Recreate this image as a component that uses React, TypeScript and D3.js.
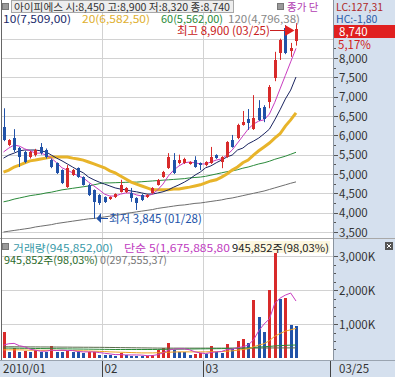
import React from "react";
import * as d3 from "d3";

// ---------- data ----------
const opens = [6220, 5750, 5930, 5670, 5570, 5440, 5490, 5700, 5620, 5360, 5280, 5100, 4660, 4970, 5150, 4920, 4720, 4580, 4450, 4400, 4350, 4400, 4540, 4540, 4510, 4380, 4460, 4400, 4510, 4720, 4920, 5160, 5360, 5280, 5280, 5260, 5360, 5280, 5230, 5280, 5490, 5310, 5440, 5880, 5930, 6270, 6420, 6160, 6710, 6730, 6860, 7480, 8130, 8780, 8180, 8450];
const highs = [6700, 5900, 6160, 5700, 5600, 5600, 5650, 5800, 5660, 5400, 5300, 5120, 5230, 5130, 5170, 4940, 4750, 4600, 4480, 4420, 4420, 4500, 4850, 4660, 4640, 4400, 4480, 4480, 4660, 4870, 5080, 5540, 5540, 5500, 5420, 5330, 5460, 5300, 5330, 5700, 5510, 5460, 5850, 6010, 6300, 6630, 6680, 7040, 6910, 6780, 7300, 8160, 8500, 8850, 8390, 8900];
const lows = [5850, 5720, 5570, 5180, 5280, 5400, 5450, 5500, 5400, 5150, 5000, 4740, 4640, 4950, 4900, 4700, 4430, 3845, 4200, 4250, 4330, 4380, 4520, 4510, 4280, 4070, 4300, 4380, 4490, 4700, 4900, 5130, 5000, 5250, 5260, 5240, 5160, 5100, 5200, 5260, 5390, 5150, 5420, 5680, 5900, 6250, 6140, 6140, 6370, 6340, 6700, 7400, 7950, 8100, 8030, 8320];
const closes = [5880, 5880, 5620, 5440, 5310, 5570, 5620, 5540, 5440, 5180, 5030, 4770, 5150, 5100, 4920, 4720, 4460, 4280, 4250, 4280, 4400, 4480, 4720, 4640, 4380, 4250, 4330, 4460, 4640, 4850, 5050, 5440, 5030, 5360, 5400, 5310, 5180, 5230, 5310, 5440, 5410, 5440, 5830, 5700, 6270, 6350, 6320, 6450, 6400, 6420, 7250, 7950, 8470, 8130, 8260, 8740];

const ma5 = [5570, 5670, 5750, 5720, 5650, 5600, 5540, 5540, 5490, 5410, 5290, 5160, 5100, 5030, 4950, 4900, 4790, 4690, 4590, 4480, 4430, 4430, 4480, 4510, 4510, 4460, 4430, 4430, 4480, 4590, 4740, 4950, 5100, 5210, 5290, 5310, 5290, 5260, 5260, 5310, 5360, 5390, 5490, 5620, 5800, 5980, 6160, 6290, 6370, 6400, 6550, 6850, 7200, 7550, 7900, 8250];
const ma10 = [5410, 5490, 5540, 5600, 5620, 5620, 5620, 5600, 5570, 5490, 5410, 5340, 5260, 5180, 5100, 5030, 4920, 4850, 4790, 4740, 4690, 4640, 4610, 4590, 4560, 4540, 4510, 4480, 4480, 4510, 4540, 4590, 4660, 4720, 4790, 4870, 4970, 5050, 5160, 5210, 5290, 5360, 5440, 5490, 5620, 5670, 5780, 5850, 5930, 6040, 6160, 6400, 6660, 6940, 7170, 7509];
const ma20 = [5050, 5100, 5180, 5230, 5290, 5340, 5360, 5390, 5410, 5440, 5440, 5440, 5440, 5410, 5390, 5360, 5310, 5260, 5210, 5160, 5080, 5030, 4950, 4870, 4790, 4740, 4690, 4640, 4590, 4590, 4590, 4590, 4610, 4610, 4640, 4660, 4690, 4720, 4770, 4820, 4850, 4920, 5000, 5100, 5180, 5290, 5360, 5490, 5600, 5700, 5800, 5930, 6040, 6240, 6400, 6582];
const ma60 = [4280, 4310, 4350, 4380, 4410, 4440, 4460, 4480, 4510, 4530, 4560, 4590, 4610, 4630, 4650, 4670, 4690, 4720, 4750, 4770, 4770, 4775, 4780, 4785, 4790, 4790, 4800, 4810, 4820, 4830, 4840, 4850, 4860, 4870, 4880, 4900, 4910, 4920, 4940, 4970, 5000, 5030, 5060, 5080, 5110, 5150, 5180, 5220, 5260, 5290, 5330, 5380, 5420, 5460, 5510, 5562];
const ma120 = [3500, 3520, 3540, 3560, 3580, 3600, 3630, 3650, 3670, 3690, 3720, 3740, 3760, 3780, 3800, 3820, 3840, 3850, 3870, 3890, 3910, 3930, 3950, 3980, 4000, 4020, 4040, 4060, 4080, 4110, 4130, 4150, 4170, 4190, 4200, 4220, 4240, 4250, 4270, 4290, 4310, 4330, 4360, 4380, 4410, 4440, 4470, 4500, 4530, 4560, 4600, 4640, 4680, 4720, 4760, 4796];

// volumes in thousands of shares
const volumes = [765, 190, 300, 190, 200, 185, 230, 190, 180, 350, 190, 185, 200, 190, 180, 150, 170, 190, 100, 80, 75, 70, 150, 75, 70, 65, 60, 70, 90, 230, 290, 440, 230, 180, 170, 90, 110, 150, 120, 350, 180, 150, 410, 270, 500, 560, 440, 1700, 1200, 760, 2010, 3090, 1740, 1760, 965, 946];
const vma5 = [380, 420, 430, 360, 330, 260, 230, 200, 200, 230, 220, 230, 220, 220, 190, 180, 180, 180, 160, 140, 120, 100, 100, 90, 90, 90, 85, 70, 70, 100, 150, 230, 260, 270, 270, 240, 180, 150, 130, 160, 180, 190, 250, 260, 300, 330, 380, 530, 800, 1000, 1150, 1600, 1760, 1850, 1910, 1676];
const vma20 = [240, 240, 240, 240, 235, 230, 230, 225, 225, 225, 225, 220, 220, 220, 215, 210, 205, 200, 195, 190, 180, 175, 170, 165, 160, 155, 150, 150, 150, 155, 160, 170, 175, 180, 180, 180, 180, 180, 180, 185, 185, 190, 200, 210, 230, 250, 270, 330, 380, 420, 510, 640, 720, 790, 830, 870];
const vma60 = [290, 290, 288, 286, 285, 283, 280, 278, 276, 275, 273, 270, 268, 266, 264, 262, 260, 258, 256, 254, 252, 250, 250, 250, 250, 250, 250, 250, 250, 252, 254, 256, 258, 260, 262, 264, 266, 268, 270, 272, 274, 276, 280, 284, 288, 292, 296, 310, 320, 330, 340, 355, 365, 372, 378, 382];
const vma120 = [330, 330, 330, 328, 328, 326, 326, 324, 324, 322, 322, 320, 320, 318, 318, 316, 316, 314, 314, 312, 310, 308, 306, 304, 302, 300, 298, 296, 294, 292, 290, 290, 290, 290, 290, 290, 290, 290, 290, 290, 290, 290, 290, 290, 290, 290, 290, 292, 293, 294, 295, 296, 296, 297, 297, 297.5];

const priceTicks = [3500, 4000, 4500, 5000, 5500, 6000, 6500, 7000, 7500, 8000];
const priceGrid = [3500, 4000, 4500, 5000, 5500, 6000, 6500, 7000, 7500, 8000, 8500];
const volTicks = [1000, 2000, 3000];
const monthLabels = ["2010/01", "02", "03"];
const monthStarts = [0, 19, 38];
const lastDateLabel = "03/25";

const F = "'Noto Sans CJK KR', 'Noto Sans', sans-serif";
const RED = "#d82a2a";
const BLUE = "#2152a8";
const PANEL = "#d5e0ee";
const GRID = "#d2d2d2";

function T(props: any) {
  const { children, size, ...rest } = props;
  return (
    <text fontFamily={F} fontSize={size || 11} {...rest}>
      {children}
    </text>
  );
}

export default function App() {
  const n = closes.length;
  const x = d3.scaleLinear().domain([0, n - 1]).range([3.5, 296]);
  const cx = (i: number) => Math.round(x(i)) + 0.5;
  const yP = d3.scaleLinear().domain([3500, 8000]).range([232, 58]);
  const yV = d3.scaleLinear().domain([0, 3000]).range([358, 256]);
  const crisp = (v: number) => Math.round(v) + 0.5;

  const lineP = d3.line<number>().x((_, i) => x(i)).y((d) => yP(d));
  const lineV = d3.line<number>().x((_, i) => x(i)).y((d) => yV(d));

  const sepX = monthStarts.slice(1).map((s) => crisp((x(s - 1) + x(s)) / 2));

  const lastClose = closes[n - 1];
  const hiIdx = n - 1;
  const loIdx = lows.indexOf(d3.min(lows) as number);

  const minorPrice = d3.range(3500, 8500, 250);
  const minorVol = d3.range(250, 3250, 250);

  return (
    <svg width={395} height={377} style={{ position: "absolute", left: 0, top: 0 }}>
      <rect x={0} y={0} width={395} height={377} fill="#ffffff" />
      {/* right panel */}
      <rect x={333} y={0} width={62} height={360} fill={PANEL} />
      {/* bottom band */}
      <rect x={0} y={360} width={395} height={17} fill={PANEL} />
      <line x1={0} x2={395} y1={360.5} y2={360.5} stroke="#9aa4b0" />

      {/* price grid */}
      {priceGrid.map((v) => (
        <line key={"pg" + v} x1={2} x2={333} y1={crisp(yP(v))} y2={crisp(yP(v))} stroke={GRID} />
      ))}
      {volTicks.map((v) => (
        <line key={"vg" + v} x1={2} x2={333} y1={crisp(yV(v))} y2={crisp(yV(v))} stroke={GRID} />
      ))}
      {sepX.map((sx) => (
        <line key={"vx" + sx} x1={sx} x2={sx} y1={0} y2={360} stroke={GRID} />
      ))}

      {/* panel separator */}
      <line x1={0} x2={395} y1={238.5} y2={238.5} stroke="#a8a8a8" />
      <line x1={1.5} x2={1.5} y1={0} y2={360} stroke="#666" />
      <line x1={333.5} x2={333.5} y1={0} y2={360} stroke="#8a94a0" />

      {/* moving averages (price) */}
      <path d={lineP(ma120) || ""} fill="none" stroke="#6e6e6e" strokeWidth={1} />
      <path d={lineP(ma60) || ""} fill="none" stroke="#2a8a3a" strokeWidth={1} />
      <path d={lineP(ma20) || ""} fill="none" stroke="#e8b42a" strokeWidth={3} />
      <path d={lineP(ma10) || ""} fill="none" stroke="#1a2460" strokeWidth={1} />
      <path d={lineP(ma5) || ""} fill="none" stroke="#c83cc0" strokeWidth={1} />

      {/* candles */}
      {closes.map((c, i) => {
        const o = opens[i];
        const up = c >= o;
        const col = up ? RED : BLUE;
        const top = Math.round(yP(Math.max(o, c)));
        const bot = Math.round(yP(Math.min(o, c)));
        const X = cx(i);
        return (
          <g key={"c" + i}>
            <line x1={X} x2={X} y1={yP(highs[i])} y2={yP(lows[i])} stroke={col} />
            <rect x={X - 1.5} y={top} width={3} height={Math.max(1, bot - top)} fill={col} />
          </g>
        );
      })}

      {/* high / low annotations */}
      <T x={177} y={35} size={11.5} fill="#c82020">최고 8,900 (03/25)</T>
      <line x1={270} x2={286} y1={30.5} y2={30.5} stroke="#c82020" />
      <path d={`M285,25 L${cx(hiIdx) - 2},30.5 L285,36 Z`} fill="#e02020" />
      <path d={`M${cx(loIdx) + 2},${yP(lows[loIdx])} L101,213 L101,223 Z`} fill={BLUE} />
      <line x1={101} x2={108} y1={218.5} y2={218.5} stroke={BLUE} />
      <T x={109} y={223} size={11.5} fill={BLUE}>최저 3,845 (01/28)</T>

      {/* volume bars */}
      {volumes.map((v, i) => {
        const up = i === 0 || v >= volumes[i - 1];
        const top = Math.round(yV(v));
        const base = Math.round(yV(0));
        return <rect key={"v" + i} x={cx(i) - 1.5} y={top} width={3} height={base - top} fill={up ? RED : BLUE} />;
      })}
      <path d={lineV(vma120) || ""} fill="none" stroke="#5a6a4a" strokeWidth={1} />
      <path d={lineV(vma60) || ""} fill="none" stroke="#2a8a3a" strokeWidth={1} />
      <path d={lineV(vma20) || ""} fill="none" stroke="#f0a020" strokeWidth={1} />
      <path d={lineV(vma5) || ""} fill="none" stroke="#c83cc0" strokeWidth={1} />

      {/* header rows price */}
      <rect x={2.5} y={3.5} width={6} height={6} fill="#9a9a9a" stroke="#777" />
      <rect x={11.5} y={0.5} width={222} height={12} fill="#eeeeee" stroke="#a8a8a8" />
      <T x={14} y={10.5} size={10.5} fill="#333" textLength={216} lengthAdjust="spacingAndGlyphs">아이피에스 시:8,450 고:8,900 저:8,320 종:8,740</T>
      <rect x={277.5} y={3.5} width={6} height={6} fill="#9a9a9a" stroke="#777" />
      <T x={287} y={10.5} size={10.5} fill="#b23cb2">종가 단</T>
      <T x={3} y={22.5} size={10.5} fill="#1a2a6a" textLength={68} lengthAdjust="spacingAndGlyphs">10(7,509,00)</T>
      <T x={82} y={22.5} size={10.5} fill="#e0b030" textLength={68} lengthAdjust="spacingAndGlyphs">20(6,582,50)</T>
      <T x={161} y={22.5} size={10.5} fill="#2a8a3a" textLength={62} lengthAdjust="spacingAndGlyphs">60(5,562,00)</T>
      <T x={228} y={22.5} size={10.5} fill="#888" textLength={72} lengthAdjust="spacingAndGlyphs">120(4,796,38)</T>

      {/* right panel labels price */}
      <T x={336} y={10.5} size={10.5} fill="#b02828">LC:127,31</T>
      <T x={336} y={22.5} size={10.5} fill="#2a5aa8">HC:-1,80</T>
      <rect x={334} y={25} width={61} height={13} fill="#e02020" />
      <T x={339} y={36} size={11.5} fill="#ffffff">{d3.format(",")(lastClose)}</T>
      <T x={338} y={48.5} size={11.5} fill="#d02020">5,17%</T>
      {minorPrice.map((v) => (
        <line key={"mt" + v} x1={334} x2={v % 500 === 0 ? 338 : 336} y1={crisp(yP(v))} y2={crisp(yP(v))} stroke="#555" />
      ))}
      {priceTicks.map((v) => (
        <T key={"pt" + v} x={339} y={yP(v) + 4.5} size={11.5} fill="#333">{d3.format(",")(v)}</T>
      ))}

      {/* volume header */}
      <rect x={2.5} y={243.5} width={6} height={6} fill="#9a9a9a" stroke="#777" />
      <T x={13} y={251.5} size={10.5} fill="#3a9aa8" textLength={100} lengthAdjust="spacingAndGlyphs">거래량(945,852,00)</T>
      <T x={124} y={251.5} size={10.5} fill="#c03cc0" textLength={106} lengthAdjust="spacingAndGlyphs">단순 5(1,675,885,80</T>
      <rect x={238} y={241} width={92} height={12} fill="#fbf3d2" opacity={0.7} />
      <T x={232} y={251.5} size={10.5} fill="#222" textLength={97} lengthAdjust="spacingAndGlyphs">945,852주(98,03%)</T>
      <T x={4} y={264} size={10.5} fill="#2a6a2a" textLength={94} lengthAdjust="spacingAndGlyphs">945,852주(98,03%)</T>
      <T x={100} y={264} size={10.5} fill="#777" textLength={67} lengthAdjust="spacingAndGlyphs">0(297,555,37)</T>

      {/* volume axis */}
      {minorVol.map((v) => (
        <line key={"vt" + v} x1={334} x2={v % 1000 === 0 ? 338 : 336} y1={crisp(yV(v))} y2={crisp(yV(v))} stroke="#555" />
      ))}
      {volTicks.map((v) => (
        <T key={"vl" + v} x={339} y={yV(v) + 4.5} size={11.5} fill="#333">{d3.format(",")(v) + "K"}</T>
      ))}
      <rect x={385} y={242} width={8} height={8} fill="#555" />
      <path d="M387,244 L391,248 M391,244 L387,248" stroke="#fff" strokeWidth={1} />

      {/* x axis */}
      {sepX.map((sx) => (
        <line key={"xs" + sx} x1={sx} x2={sx} y1={361} y2={377} stroke="#444" />
      ))}
      <line x1={330.5} x2={330.5} y1={361} y2={377} stroke="#444" />
      {monthLabels.map((m, k) => (
        <T key={"ml" + m} x={k === 0 ? 3 : sepX[k - 1] + 2} y={373} size={11.5} fill="#333">{m}</T>
      ))}
      <T x={339} y={373} size={11.5} fill="#333">{lastDateLabel}</T>
    </svg>
  );
}
